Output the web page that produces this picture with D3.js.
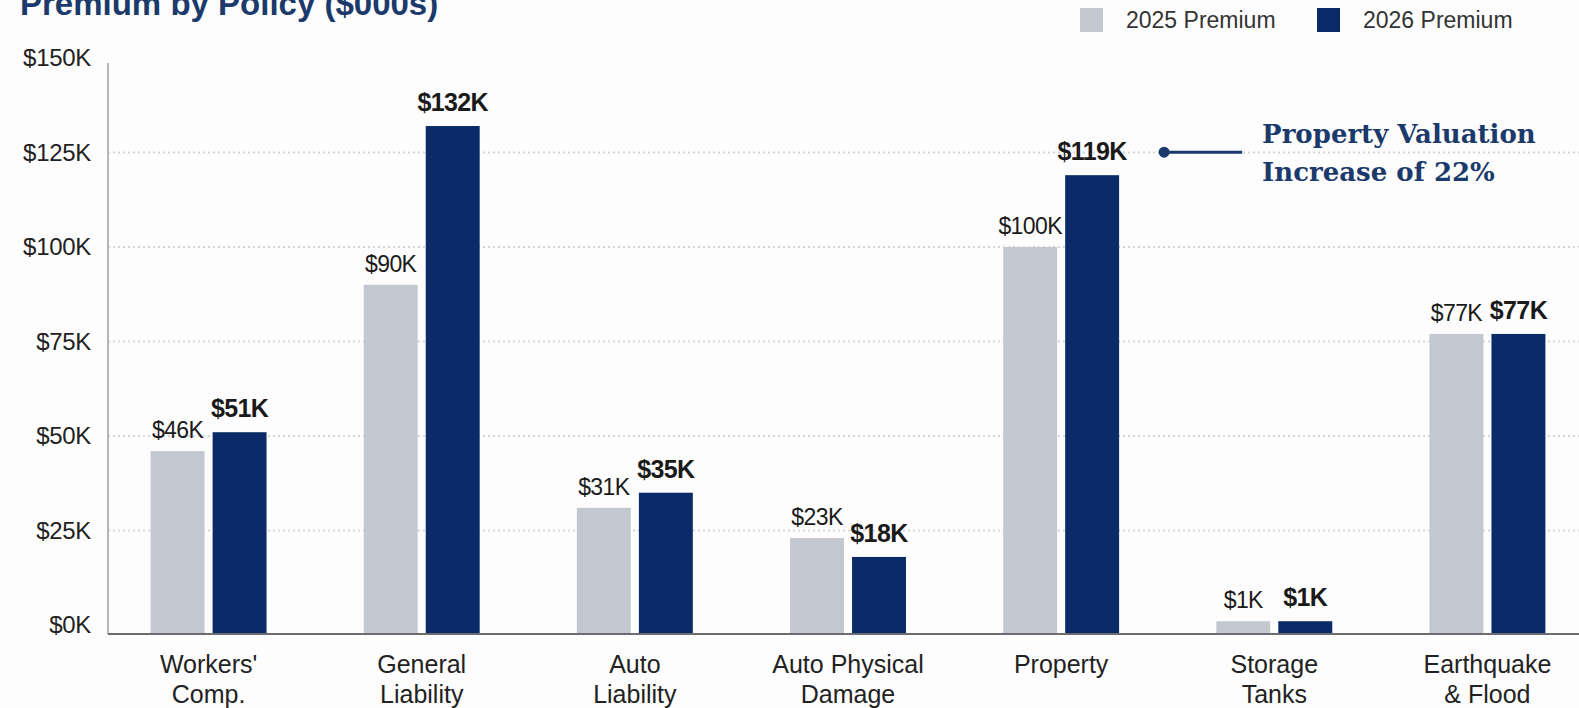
<!DOCTYPE html>
<html><head><meta charset="utf-8">
<script src="https://cdn.jsdelivr.net/npm/d3@7"></script>
<style>
html,body{margin:0;padding:0;background:#fdfdfd;}
svg{display:block;font-family:"Liberation Sans",Arial,sans-serif;}
</style></head>
<body><svg id="chart" width="1579" height="708"></svg>
<script>
const categories = [["Workers'","Comp."],["General","Liability"],["Auto","Liability"],["Auto Physical","Damage"],["Property"],["Storage","Tanks"],["Earthquake","& Flood"]];
const seriesNames = ["2025 Premium","2026 Premium"];
const premium2025 = [46, 90, 31, 23, 100, 1, 77];
const premium2026 = [51, 132, 35, 18, 119, 1, 77];
const yTicks = [0, 25, 50, 75, 100, 125, 150];
const title = "Premium by Policy ($000s)";
const annotationLines = ["Property Valuation", "Increase of 22%"];

const colors = ["#c3c8d0", "#0b2b68"];
const navy = "#1b3a6b";
const W = 1579, H = 708;
const axisX = 108, bandStart = 102, bandEnd = 1594, plotTop = 58, zeroY = 625, baseY = 634;

const svg = d3.select("#chart");
svg.append("rect").attr("width", W).attr("height", H).attr("fill", "#fdfdfd");

const keys = categories.map(c => c.join(" "));
const x0 = d3.scaleBand().domain(keys).range([bandStart, bandEnd]).paddingInner(0.456).paddingOuter(0.228);
const x1 = d3.scaleBand().domain(seriesNames).range([0, x0.bandwidth()]).paddingInner(0.13);
const y = d3.scaleLinear().domain([0, 150]).range([zeroY, plotTop]);

// gridlines
svg.append("g").selectAll("line").data(yTicks.filter(t => t > 0 && t < 150)).join("line")
  .attr("x1", axisX).attr("x2", W).attr("y1", d => y(d)).attr("y2", d => y(d))
  .attr("stroke", "#d4d6da").attr("stroke-width", 2).attr("stroke-dasharray", "2,3");

// y axis
const yAxis = svg.append("g").attr("transform", `translate(${axisX},0)`)
  .call(d3.axisLeft(y).tickValues(yTicks).tickFormat(d => `$${d}K`).tickSize(0).tickPadding(17));
yAxis.select(".domain").remove();
yAxis.selectAll("text").attr("font-size", 24).attr("fill", "#222").attr("letter-spacing", "-0.3")
  .attr("font-family", "Liberation Sans, Arial, sans-serif");
svg.append("line").attr("x1", axisX).attr("x2", axisX).attr("y1", y(150) + 5).attr("y2", baseY)
  .attr("stroke", "#b5b7bb").attr("stroke-width", 2);

// bars
const data = keys.map((k, i) => ({key: k, vals: [premium2025[i], premium2026[i]]}));
const groups = svg.append("g").selectAll("g").data(data).join("g")
  .attr("transform", d => `translate(${x0(d.key)},0)`);
groups.selectAll("rect").data(d => d.vals.map((v, j) => ({v, s: seriesNames[j], j}))).join("rect")
  .attr("x", d => x1(d.s)).attr("width", x1.bandwidth())
  .attr("y", d => y(d.v)).attr("height", d => baseY - y(d.v))
  .attr("fill", d => colors[d.j]);
groups.selectAll("text.val").data(d => d.vals.map((v, j) => ({v, s: seriesNames[j], j}))).join("text")
  .attr("class", "val")
  .attr("x", d => x1(d.s) + x1.bandwidth() / 2)
  .attr("y", d => y(d.v) - (d.j ? 15 : 13))
  .attr("text-anchor", "middle")
  .attr("font-size", d => d.j ? 25 : 23)
  .attr("font-weight", d => d.j ? "bold" : "normal")
  .attr("fill", "#1a1a1a")
  .attr("letter-spacing", "-0.6")
  .text(d => `$${d.v}K`);

// baseline
svg.append("line").attr("x1", axisX).attr("x2", W).attr("y1", baseY).attr("y2", baseY)
  .attr("stroke", "#6b6d70").attr("stroke-width", 2);

// category labels
const catG = svg.append("g").selectAll("text").data(categories).join("text")
  .attr("x", (d, i) => x0(keys[i]) + x0.bandwidth() / 2)
  .attr("y", baseY + 39)
  .attr("text-anchor", "middle").attr("font-size", 25).attr("fill", "#222");
catG.selectAll("tspan").data(d => d).join("tspan")
  .attr("x", function(){ return this.parentNode.getAttribute("x"); })
  .attr("dy", (d, i) => i ? 30 : 0).text(d => d);

// title
svg.append("text").attr("x", 20).attr("y", 15).attr("font-size", 33).attr("font-weight", "bold")
  .attr("fill", navy).text(title);

// legend
const legX = [1080, 1317];
const leg = svg.append("g").selectAll("g").data(seriesNames).join("g")
  .attr("transform", (d, i) => `translate(${legX[i]},8)`);
leg.append("rect").attr("width", 23).attr("height", 24).attr("fill", (d, i) => colors[i]);
leg.append("text").attr("x", 46).attr("y", 20).attr("font-size", 23).attr("fill", "#333").text(d => d);

// annotation
const pk = keys[4];
const barRight = x0(pk) + x1(seriesNames[1]) + x1.bandwidth();
const ax = barRight + 45, ay = y(premium2026[4]) - 23;
svg.append("line").attr("x1", ax).attr("x2", ax + 78).attr("y1", ay).attr("y2", ay)
  .attr("stroke", navy).attr("stroke-width", 3);
svg.append("circle").attr("cx", ax).attr("cy", ay).attr("r", 5.5).attr("fill", navy);
svg.append("g").selectAll("text").data(annotationLines).join("text")
  .attr("x", ax + 98).attr("y", (d, i) => ay - 9 + i * 38)
  .attr("font-family", "DejaVu Serif, serif").attr("font-weight", "bold")
  .attr("font-size", 26).attr("fill", navy).text(d => d);
</script></body></html>
